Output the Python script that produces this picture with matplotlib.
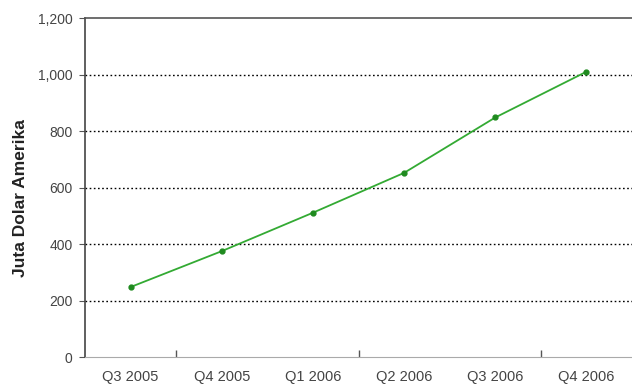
import matplotlib.pyplot as plt
from matplotlib.ticker import FuncFormatter, FixedLocator

quarters = ['Q3 2005', 'Q4 2005', 'Q1 2006', 'Q2 2006', 'Q3 2006', 'Q4 2006']
values = [248, 375, 511, 652, 848, 1010]

plt.rcParams['font.family'] = ['Liberation Sans', 'DejaVu Sans']


def main():
    fig = plt.figure(figsize=(6.32, 3.92), dpi=100)
    ax = fig.add_axes([0.1345, 0.089, 0.8655, 0.865])

    x = list(range(len(quarters)))
    ax.plot(x, values, color='#33aa33', linewidth=1.3, marker='o',
            markersize=3.5, markerfacecolor='#1f8a1f', markeredgecolor='#1f8a1f')

    ax.set_xlim(-0.5, len(quarters) - 0.5)
    ax.set_ylim(0, 1200)
    ax.set_yticks(range(0, 1201, 200))
    ax.yaxis.set_major_formatter(FuncFormatter(lambda v, p: f'{int(v):,}'))

    ax.set_xticks(x)
    ax.set_xticklabels(quarters)
    ax.tick_params(axis='x', length=0, pad=9, labelsize=10.5, labelcolor='#444444')
    # tick marks only at every other category boundary
    ax.xaxis.set_minor_locator(FixedLocator([0.5, 2.5, 4.5]))
    ax.tick_params(axis='x', which='minor', length=5, direction='in',
                   color='#555555', width=1)
    ax.tick_params(axis='y', length=4, direction='out', labelsize=10,
                   labelcolor='#444444', color='#555555', pad=5)

    # dotted horizontal gridlines
    for v in range(200, 1001, 200):
        ax.axhline(v, color='black', linestyle=(0, (1.2, 1.8)), linewidth=1.0, zorder=0)

    ax.spines['left'].set_color('#444444')
    ax.spines['left'].set_linewidth(1.2)
    ax.spines['top'].set_color('#555555')
    ax.spines['top'].set_linewidth(1.2)
    ax.spines['bottom'].set_color('#aaaaaa')
    ax.spines['right'].set_visible(False)

    ax.set_ylabel('Juta Dolar Amerika', fontsize=12.5, fontweight='bold',
                  color='#222222')
    ax.yaxis.set_label_coords(-0.105, 0.47)

    fig.savefig('out.png', dpi=100)


if __name__ == "__main__":
    main()
